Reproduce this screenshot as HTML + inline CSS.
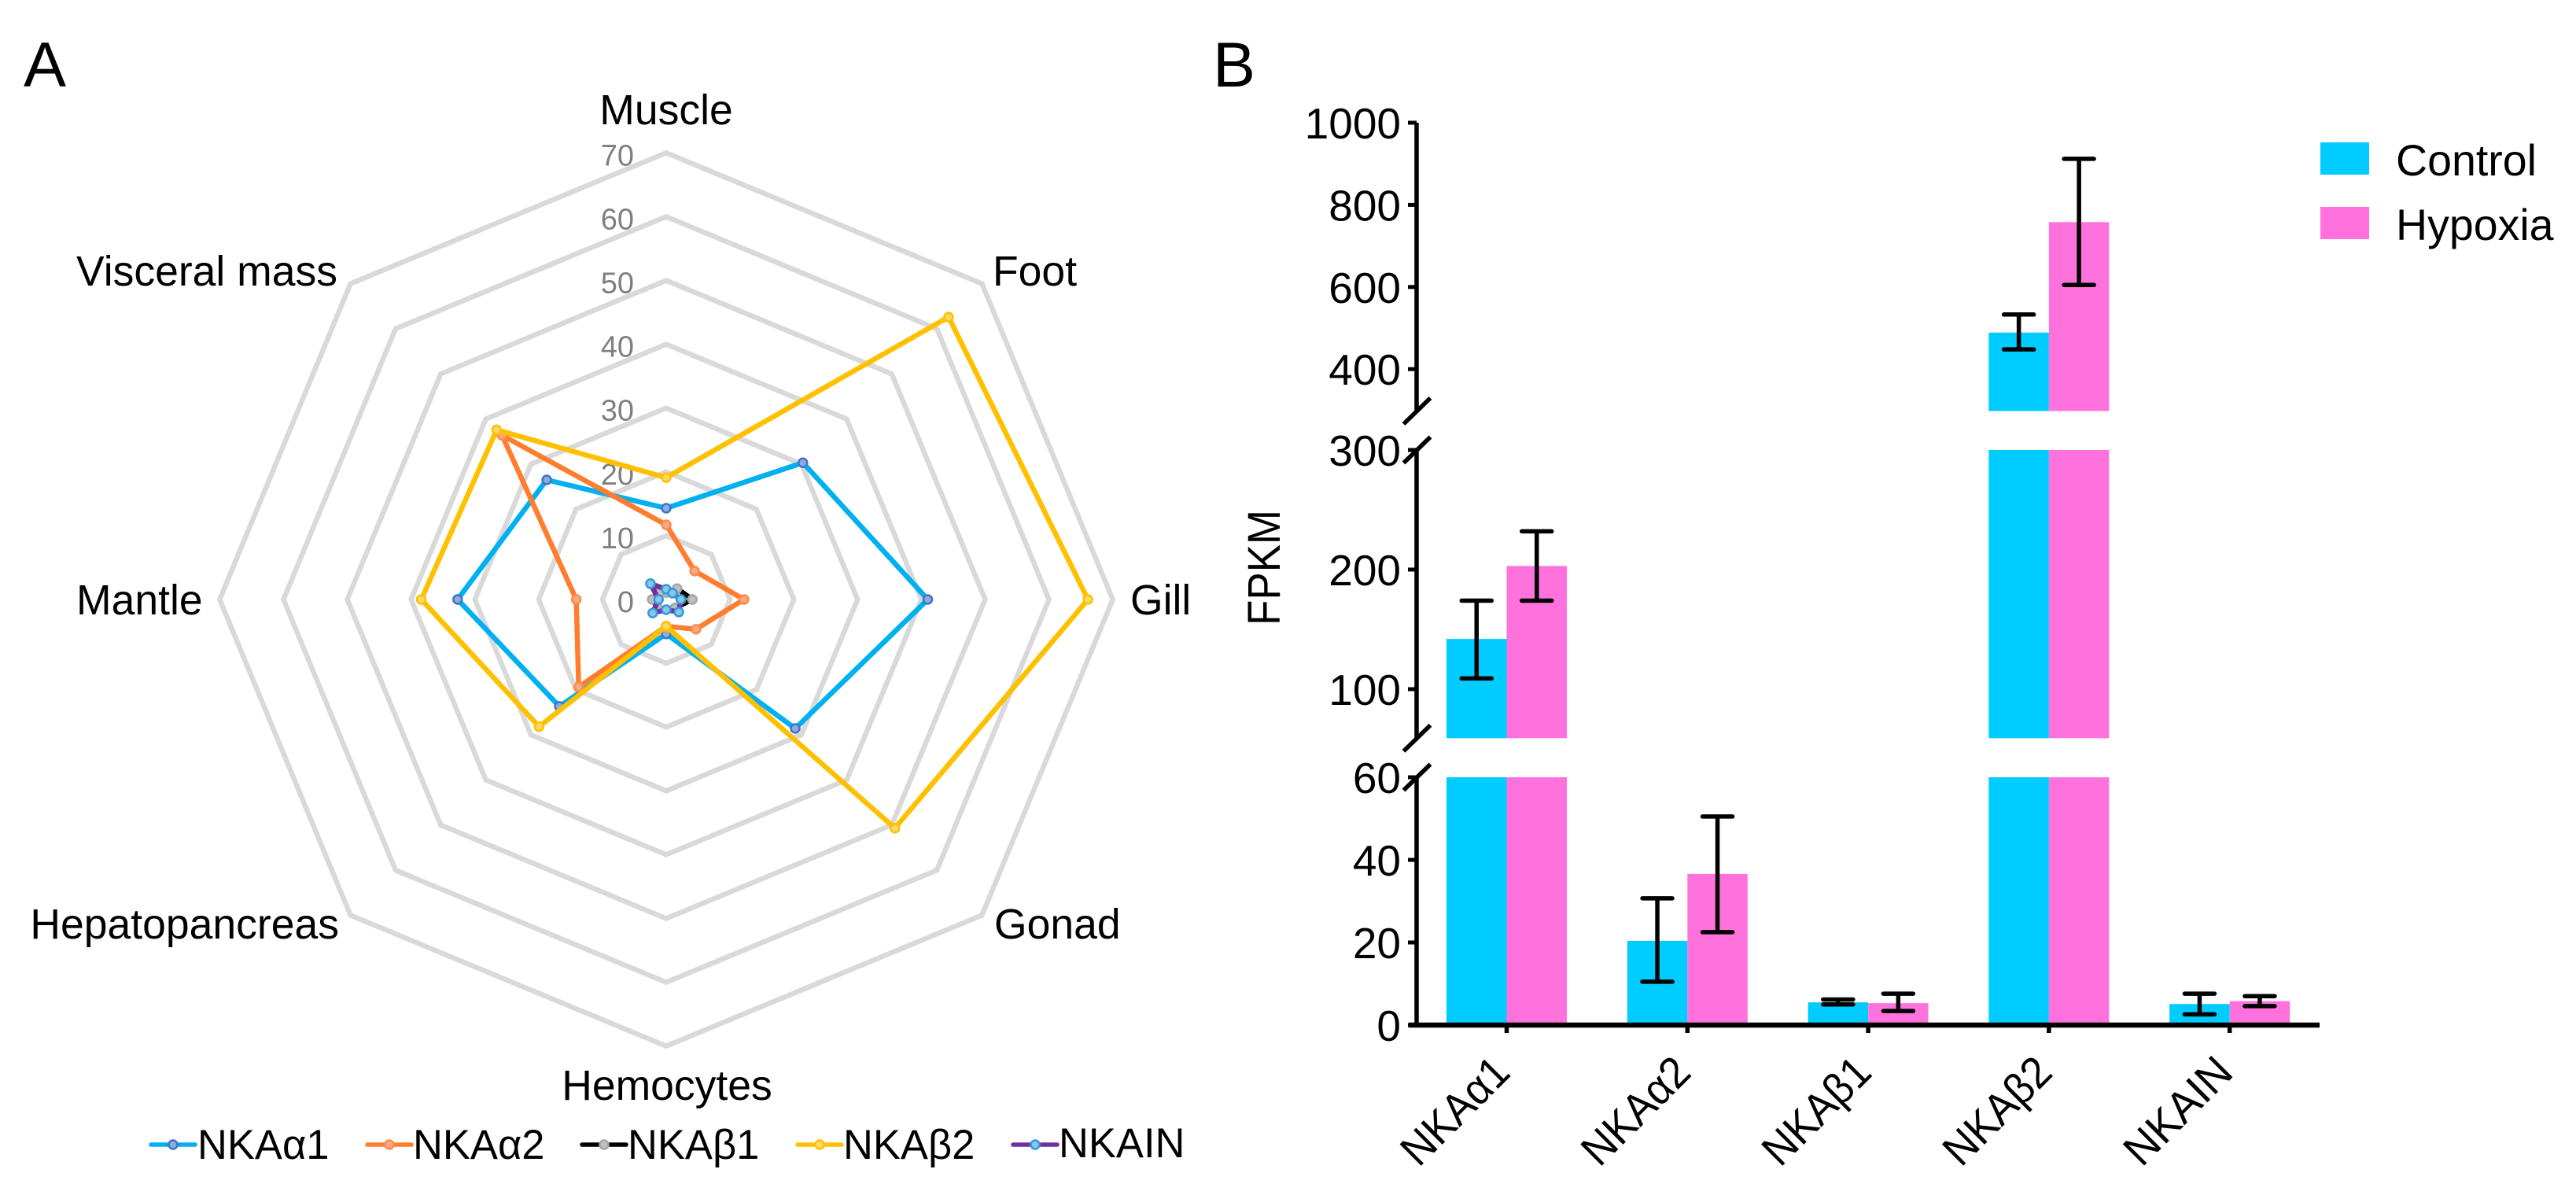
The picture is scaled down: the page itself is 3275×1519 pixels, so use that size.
<!DOCTYPE html>
<html lang="en">
<head>
<meta charset="utf-8">
<title>NKA expression: radar and bar chart</title>
<style>
html,body{margin:0;padding:0;background:#fff;width:3275px;height:1519px;overflow:hidden}
svg{display:block}
text{font-family:"Liberation Sans",Arial,sans-serif;fill:#000}
</style>
</head>
<body>
<svg id="fig" xmlns="http://www.w3.org/2000/svg" width="3275" height="1519" viewBox="0 0 3275 1519">
<rect x="0" y="0" width="3275" height="1519" fill="#fff"/>
<text x="30" y="110" font-size="81">A</text>
<text x="1542" y="110" font-size="81">B</text>
<text transform="translate(1627,795) rotate(-90)" font-size="58" textLength="147" lengthAdjust="spacingAndGlyphs">FPKM</text>
</svg>
<script>
// ---- Radar data ----
const tissues = ["Muscle","Foot","Gill","Gonad","Hemocytes","Hepatopancreas","Mantle","Visceral mass"];
const radarTicks = [0,10,20,30,40,50,60,70];
const radarSeriesNames = ["NKAα1","NKAα2","NKAβ1","NKAβ2","NKAIN"];
const nkaA1 = [14.3,30.3,41,28.6,5.4,23.7,32.7,26.5];
const nkaA2 = [11.7,6.3,12.2,6.6,4.2,19.4,14.1,36.4];
const nkaB1 = [1.1,2.4,4.1,1.9,1.6,1.9,2.2,1.5];
const nkaB2 = [19.1,62.6,66.1,50.7,4.2,28.2,38.4,37.6];
const nkaIN = [1.6,1.4,2.3,2.8,1.6,3.0,1.2,3.5];

// ---- Bar data ----
const genes = ["NKAα1","NKAα2","NKAβ1","NKAβ2","NKAIN"];
const groupNames = ["Control","Hypoxia"];
const controlMean = [142,20.4,5.5,489,5.1];
const controlLow = [109,10.5,5,448,2.6];
const controlHigh = [174,30.7,6.2,533,7.6];
const hypoxiaMean = [203,36.6,5.3,758,5.8];
const hypoxiaLow = [174,22.5,3.4,605,4.6];
const hypoxiaHigh = [232,50.5,7.6,912,7];
const ticksLow = [0,20,40,60];
const ticksMid = [100,200,300];
const ticksHigh = [400,600,800,1000];

const NS = "http://www.w3.org/2000/svg";
const svg = document.getElementById("fig");
function make(tag, attrs, parent){
  const n = document.createElementNS(NS, tag);
  for (const k in attrs) n.setAttribute(k, attrs[k]);
  (parent || svg).appendChild(n);
  return n;
}
function slug(s){ return s.toLowerCase().replace(/α/g,"alpha").replace(/β/g,"beta").replace(/\s+/g,"-"); }

// ---- Radar axis functions ----
const cx = 847, cy = 762, pxPerUnit = 8.11;
function rx(i, v){ return cx + v*pxPerUnit*Math.sin(i*Math.PI/4); }
function ry(i, v){ return cy - v*pxPerUnit*Math.cos(i*Math.PI/4); }

radarTicks.forEach(function(t){
  if (t === 0) return;
  const pts = tissues.map(function(_, i){ return rx(i,t).toFixed(1)+","+ry(i,t).toFixed(1); }).join(" ");
  const ring = make("polygon",{points:pts,fill:"none",stroke:"#d9d9d9","stroke-width":6.5,"stroke-linejoin":"miter"});
  
  
});
radarTicks.forEach(function(t){
  const lab = make("text",{x:806,y:ry(0,t)+16,"font-size":38,"text-anchor":"end",style:"fill:#7f7f7f"});
  lab.textContent = t;
  
  
});

const labelAnchors = [
  {x:847,y:158,a:"middle"},{x:1262,y:363,a:"start"},{x:1437,y:781,a:"start"},{x:1264,y:1193,a:"start"},
  {x:848,y:1398,a:"middle"},{x:431,y:1193,a:"end"},{x:97,y:781,a:"start"},{x:429,y:363,a:"end"}
];
tissues.forEach(function(name, i){
  const p = labelAnchors[i];
  const lab = make("text",{x:p.x,y:p.y,"font-size":53.5,"text-anchor":p.a});
  lab.textContent = name;
  
  
});

const radarValues = [nkaA1,nkaA2,nkaB1,nkaB2,nkaIN];
const lineColors = ["#00b0f0","#ff7d2c","#000000","#ffc000","#7030a0"];
const dotFill = ["#8ea9db","#f9a88a","#bfbfbf","#ffd966","#8fc3ea"];
const dotStroke = ["#3f74c8","#ff8b45","#a5a5a5","#ffc000","#2e9bdc"];

radarValues.forEach(function(vals, s){
  const pts = vals.map(function(v,i){ return rx(i,v).toFixed(1)+","+ry(i,v).toFixed(1); }).join(" ");
  const g = make("g",{});
  
  
  const poly = make("polygon",{points:pts,fill:"none",stroke:lineColors[s],"stroke-width":6.5,"stroke-linejoin":"round"},g);
  
  
  vals.forEach(function(v,i){
    const d = make("circle",{cx:rx(i,v),cy:ry(i,v),r:5.5,fill:dotFill[s],stroke:dotStroke[s],"stroke-width":2.5},g);
    
    
  });
});

// radar legend
const legendLineX = [192,467,740,1014,1288];
const legendTextX = [251,525,798,1072,1346];
const legendTextY = [1473,1473,1473,1473,1471];
radarSeriesNames.forEach(function(name, s){
  const g = make("g",{});
  
  
  const l = make("line",{x1:legendLineX[s],x2:legendLineX[s]+56,y1:1455,y2:1455,stroke:lineColors[s],"stroke-width":5.5,"stroke-linecap":"round"},g);
  
  
  const c = make("circle",{cx:legendLineX[s]+28,cy:1455,r:5.5,fill:dotFill[s],stroke:dotStroke[s],"stroke-width":2.5},g);
  
  
  const t = make("text",{x:legendTextX[s],y:legendTextY[s],"font-size":52.5},g);
  t.textContent = name;
  
  
});

// ---- Bar axis functions (broken y axis) ----
const axisX = 1801;
function yLow(v){ return 1303 - (v-0)*5.25; }
function yMid(v){ return 876 - (v-100)*1.52; }
function yHigh(v){ return 156 + (1000-v)*0.522; }
const panels = [
  {fn:yLow,min:0,max:60},
  {fn:yMid,min:59,max:300},
  {fn:yHigh,min:298,max:1000}
];
function yAny(v){
  if (v <= 60) return yLow(v);
  if (v <= 300) return yMid(v);
  return yHigh(v);
}
function groupCenter(i){ return 1915.5 + i*229.8; }
const barW = 76.5;

const barColors = ["#00ccff","#ff72dd"];
const means = [controlMean,hypoxiaMean];
const lows = [controlLow,hypoxiaLow];
const highs = [controlHigh,hypoxiaHigh];

genes.forEach(function(gene, i){
  [0,1].forEach(function(k){
    const x = k === 0 ? groupCenter(i)-barW : groupCenter(i);
    const v = means[k][i];
    panels.forEach(function(p, pi){
      if (v <= p.min) return;
      const top = p.fn(Math.min(v,p.max));
      const bot = p.fn(p.min);
      const r = make("rect",{x:x,y:top,width:barW,height:bot-top,fill:barColors[k]});
      
      
    });
  });
});
genes.forEach(function(gene, i){
  [0,1].forEach(function(k){
    const x = (k === 0 ? groupCenter(i)-barW/2 : groupCenter(i)+barW/2);
    const g = make("g",{stroke:"#000","stroke-width":5.5,"stroke-linecap":"round"});
    
    
    const yl = yAny(lows[k][i]), yh = yAny(highs[k][i]);
    make("line",{x1:x,x2:x,y1:yl,y2:yh,"stroke-linecap":"butt"},g);
    make("line",{x1:x-19,x2:x+19,y1:yl,y2:yl},g);
    make("line",{x1:x-19,x2:x+19,y1:yh,y2:yh},g);
  });
});

// y axis line pieces
const axisG = make("g",{stroke:"#000","stroke-width":5.5});


panels.forEach(function(p){
  make("line",{x1:axisX,x2:axisX,y1:p.fn(p.max),y2:p.fn(p.min)},axisG);
});
// axis break marks
[yHigh(298),yMid(300),yMid(59),yLow(60)].forEach(function(y){
  const b = make("line",{x1:axisX-16.5,x2:axisX+17.5,y1:y+16.5,y2:y-16.5,stroke:"#000","stroke-width":5.5});
  
  
});
function yTick(v, fn){
  const y = fn(v);
  const t = make("line",{x1:axisX-11,x2:axisX,y1:y,y2:y,stroke:"#000","stroke-width":5});
  
  
  const lab = make("text",{x:1781,y:y+20,"font-size":55,"text-anchor":"end"});
  lab.textContent = v;
  
  
}
ticksLow.forEach(function(v){ yTick(v,yLow); });
ticksMid.forEach(function(v){ yTick(v,yMid); });
ticksHigh.forEach(function(v){ yTick(v,yHigh); });

// x axis
const xAxis = make("line",{x1:1791,x2:2949,y1:yLow(0),y2:yLow(0),stroke:"#000","stroke-width":6.5});


genes.forEach(function(gene, i){
  const x = groupCenter(i);
  const t = make("line",{x1:x,x2:x,y1:yLow(0),y2:1313,stroke:"#000","stroke-width":5.5});
  
  
  const lab = make("text",{transform:"translate("+(x+7)+",1366) rotate(-45)","font-size":56,"text-anchor":"end",textLength:168,lengthAdjust:"spacingAndGlyphs"});
  lab.textContent = gene;
  
  
});

// bar legend
const swatchY = [181,263];
groupNames.forEach(function(name, k){
  const g = make("g",{});
  
  
  const r = make("rect",{x:2950,y:swatchY[k],width:62,height:41,fill:barColors[k]},g);
  
  
  const t = make("text",{x:3046,y:swatchY[k]+42,"font-size":55.5},g);
  t.textContent = name;
  
  
});
</script>
</body>
</html>
